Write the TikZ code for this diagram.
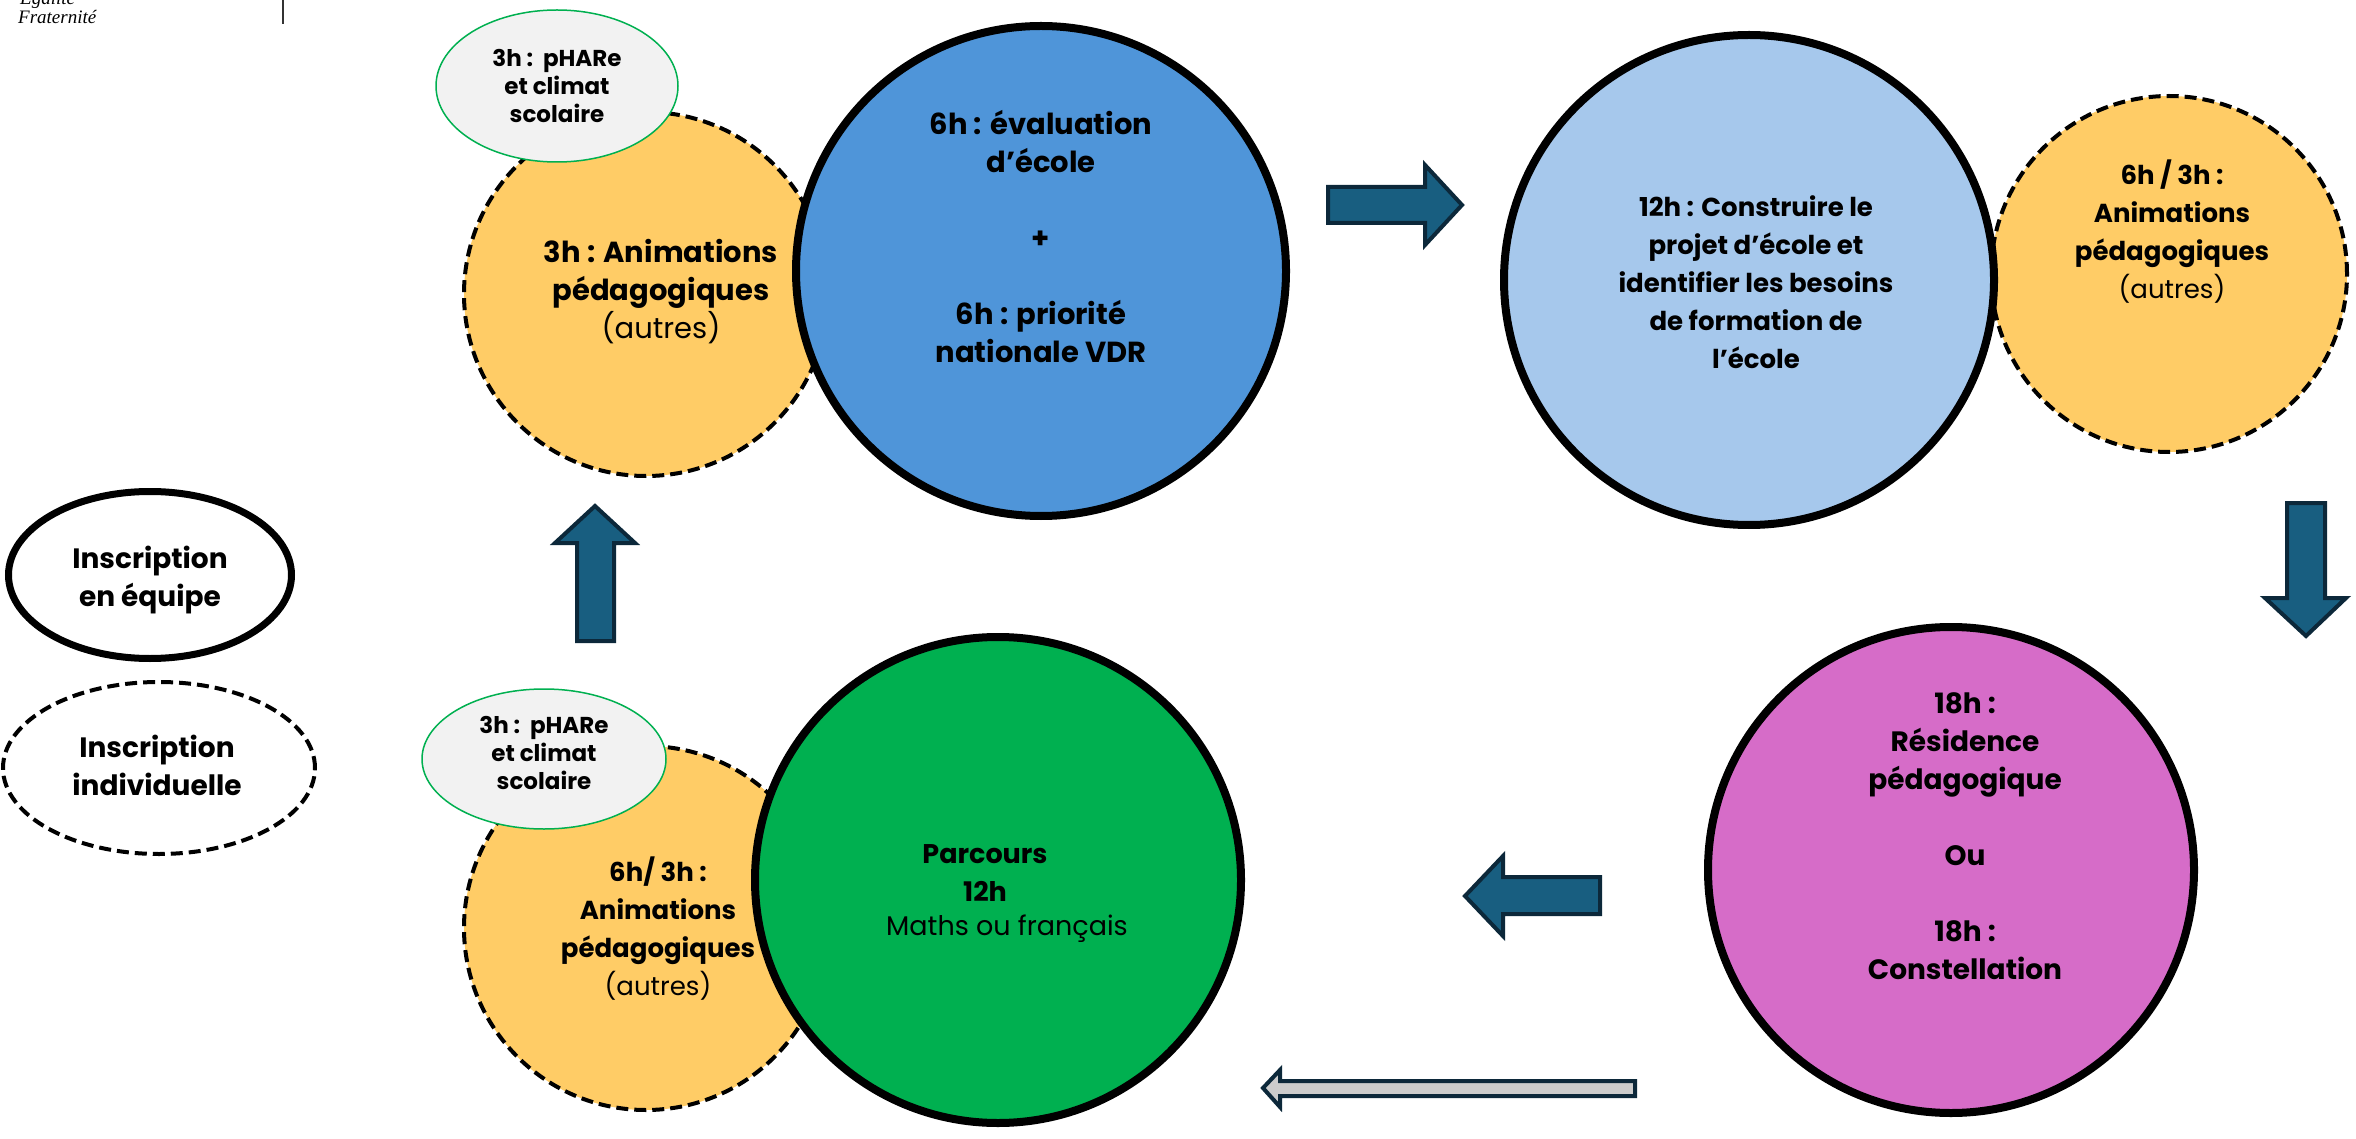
\documentclass[tikz,border=0pt]{standalone}
\usepackage{fontspec}
\setmainfont{Poppins}
\newfontfamily\serifit{Liberation Serif}
\usetikzlibrary{shapes.geometric}
\definecolor{yelc}{RGB}{255,204,102}
\definecolor{bluec}{RGB}{79,149,217}
\definecolor{lbluec}{RGB}{166,200,236}
\definecolor{magc}{RGB}{214,108,200}
\definecolor{grnc}{RGB}{0,176,80}
\definecolor{ellf}{RGB}{242,242,242}
\definecolor{ellb}{RGB}{0,176,80}
\definecolor{arrf}{RGB}{24,94,128}
\definecolor{arrb}{RGB}{12,40,58}
\definecolor{greyf}{RGB}{204,204,204}
\begin{document}
\begin{tikzpicture}[x=1pt,y=-1pt,
  bigc/.style={circle,draw=black,line width=8pt,inner sep=0pt,minimum size=#1},
  yelcirc/.style={circle,fill=yelc,draw=black,line width=4pt,dash pattern=on 12pt off 6pt,inner sep=0pt,minimum size=#1},
  pharell/.style={ellipse,fill=ellf,draw=ellb,line width=1.5pt,inner sep=0pt},
  txt/.style={align=center,inner sep=0pt,font=\bfseries\fontsize{#1}{38}\selectfont},
  txt/.default=26,
  smalltxt/.style={align=center,inner sep=0pt,font=\bfseries\fontsize{23}{28}\selectfont},
  insctxt/.style={align=center,inner sep=0pt,font=\bfseries\fontsize{28}{38}\selectfont},
  blockarr/.style={fill=arrf,draw=arrb,line width=4pt,line join=miter},
  greyarr/.style={fill=greyf,draw=arrb,line width=4pt,line join=miter}]
\clip (0,0) rectangle (2356,1139);
\fill[white] (0,0) rectangle (2356,1139);

% header
\node[anchor=base west,inner sep=0pt,font=\serifit\itshape\fontsize{19}{20}\selectfont] (egal) at (20,5) {Égalité};
\node[anchor=base west,inner sep=0pt,font=\serifit\itshape\fontsize{19}{20}\selectfont] (frat) at (18,24) {Fraternité};
\draw[line width=2pt,black!80] (283,0) -- (283,24);

% yellow circles (individual)
\node[yelcirc=364] (y1) at (646,294) {};
\node[yelcirc=356] (y2) at (2169,274) {};
\node[yelcirc=364] (y3) at (646,928) {};

% big circles
\node[bigc=490,fill=bluec] (eval) at (1041,271) {};
\node[bigc=490,fill=lbluec] (proj) at (1749,280) {};
\node[bigc=486,fill=magc] (resid) at (1951,870) {};
\node[bigc=486,fill=grnc] (parc) at (998,880) {};

% pHARe ellipses
\node[pharell,minimum width=242,minimum height=152] (ph1) at (557,86) {};
\node[pharell,minimum width=244,minimum height=140] (ph2) at (544,759) {};

% legend
\node[ellipse,draw=black,line width=7pt,minimum width=283,minimum height=167,inner sep=0pt] (leq) at (150,575) {};
\node[ellipse,draw=black,line width=4pt,dash pattern=on 12pt off 6pt,minimum width=312,minimum height=172,inner sep=0pt] (lind) at (159,768) {};

% texts
\node[txt=29] (ty1) at (661,292) {3h : Animations\\pédagogiques\\{\mdseries(autres)}};
\node[txt=29] (teval) at (1041,237) {6h : évaluation\\d’école\\[38pt]+\\[38pt]6h : priorité\\nationale VDR};
\node[txt] (tproj) at (1756,282) {12h : Construire le\\projet d’école et\\identifier les besoins\\de formation de\\l’école};
\node[txt] (ty2) at (2172,232) {6h / 3h :\\Animations\\pédagogiques\\{\mdseries(autres)}};
\node[txt=28] (tresid) at (1965,836) {18h :\\Résidence\\pédagogique\\[38pt]Ou\\[38pt]18h :\\Constellation};
\node[txt=27] (tparc) at (985,873) {Parcours\\12h};
\node[txt=27,font=\mdseries\fontsize{27}{38}\selectfont] (tparc2) at (1007,929) {Maths ou français};
\node[txt] (ty3) at (658,929) {6h/ 3h :\\Animations\\pédagogiques\\{\mdseries(autres)}};
\node[smalltxt] (tph1) at (557,86) {3h :\ \ pHARe\\et climat\\scolaire};
\node[smalltxt] (tph2) at (544,753) {3h :\ \ pHARe\\et climat\\scolaire};
\node[insctxt] (tleq) at (150,580) {Inscription\\en équipe};
\node[insctxt] (tlind) at (157,765) {Inscription\\individuelle};

% block arrows
\draw[blockarr] (1328,187) -- (1425,187) -- (1425,165) -- (1462,205) -- (1425,245) -- (1425,223) -- (1328,223) -- cycle;
\draw[blockarr] (2287,503) -- (2325,503) -- (2325,598) -- (2346,598) -- (2306,636) -- (2265,598) -- (2287,598) -- cycle;
\draw[blockarr] (1600,877) -- (1503,877) -- (1503,856) -- (1465,896) -- (1503,936) -- (1503,914) -- (1600,914) -- cycle;
\draw[blockarr] (577,641) -- (577,543) -- (555,543) -- (595,506) -- (635,543) -- (614,543) -- (614,641) -- cycle;
\draw[greyarr] (1635,1081) -- (1280,1081) -- (1280,1070) -- (1263,1088) -- (1280,1107) -- (1280,1096) -- (1635,1096) -- cycle;
\end{tikzpicture}
\end{document}
